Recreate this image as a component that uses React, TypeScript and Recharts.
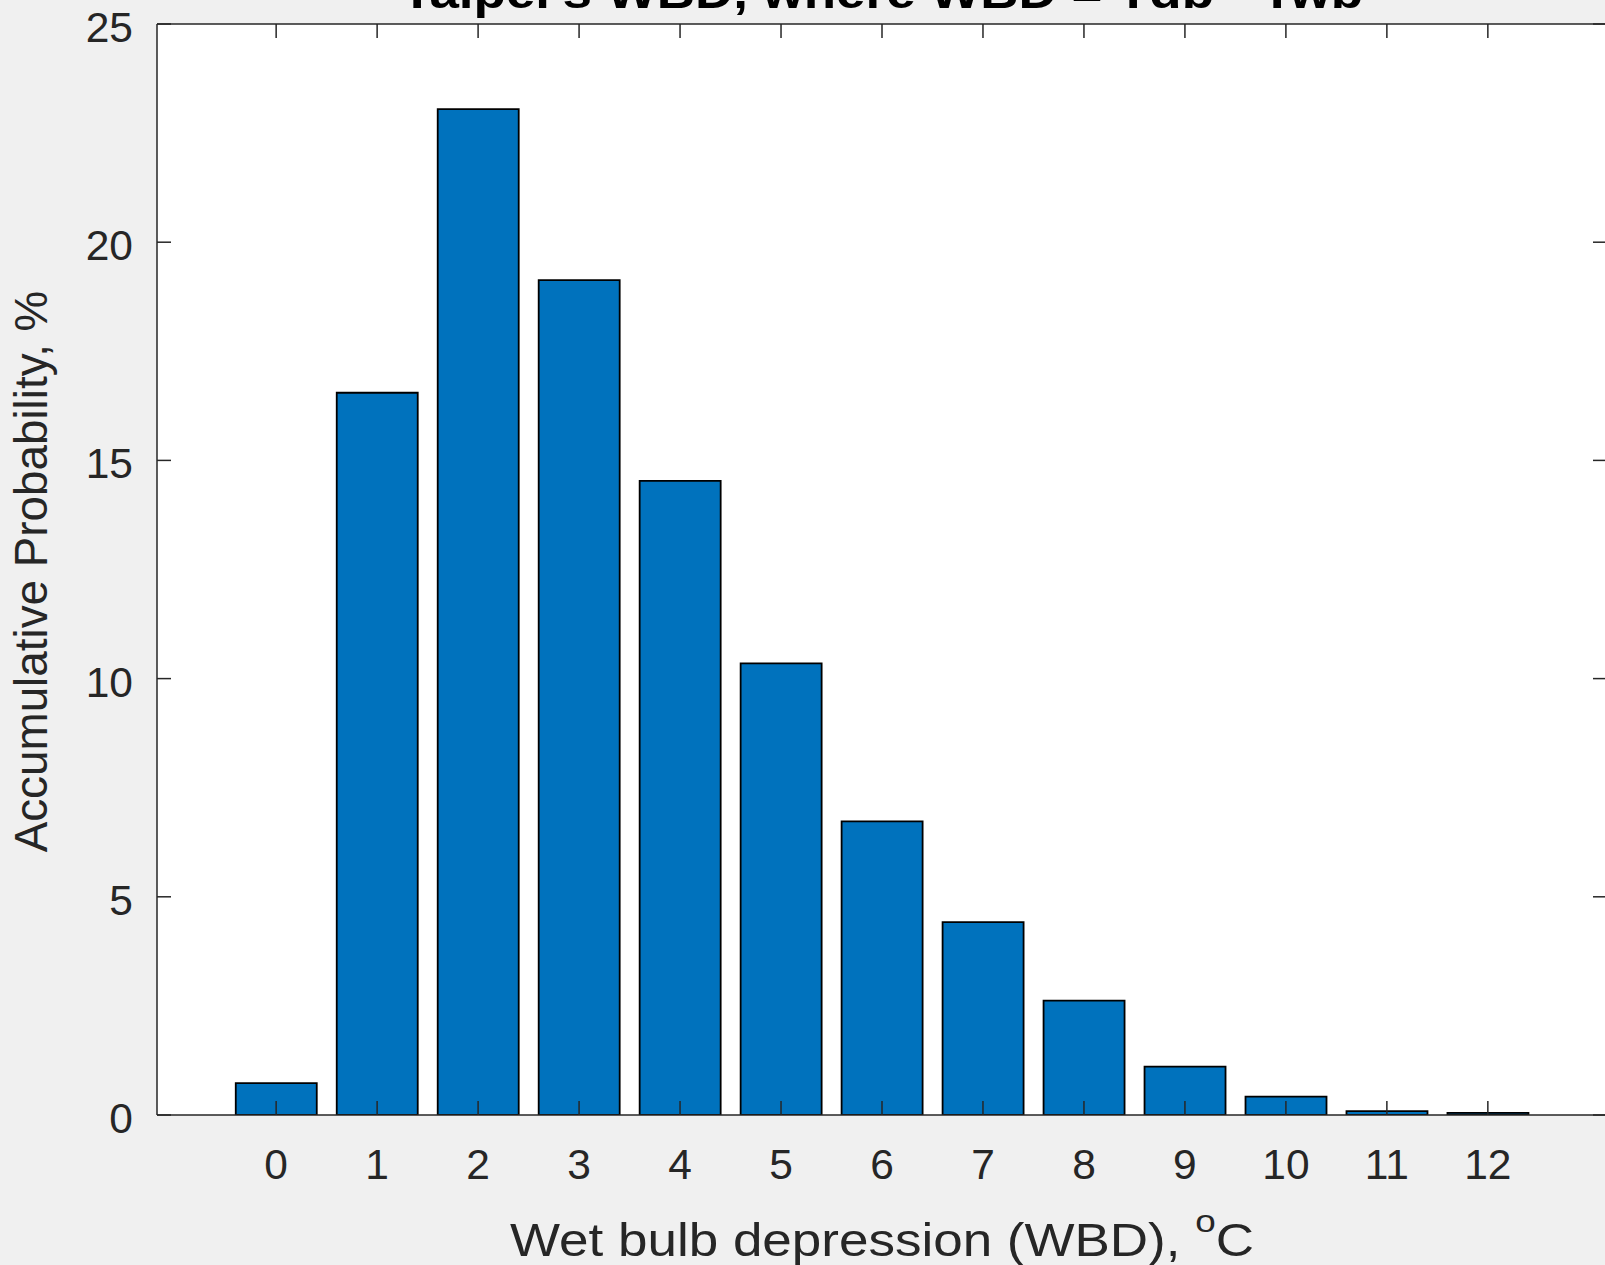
import React from "react";
import { BarChart, Bar, XAxis, YAxis, CartesianGrid } from "recharts";

const categories = [0, 1, 2, 3, 4, 5, 6, 7, 8, 9, 10, 11, 12];
const probabilities = [0.73, 16.55, 23.05, 19.13, 14.53, 10.35, 6.73, 4.42, 2.62, 1.11, 0.42, 0.09, 0.05];
const yTicks = [0, 5, 10, 15, 20, 25];
const xDomain = [-1.18, 13.18];
const yDomain = [0, 25];

const titleText = "Taipei's WBD, where WBD = Tdb - Twb";
const xLabelText = "Wet bulb depression (WBD), ";
const yLabelText = "Accumulative Probability, %";

const data = categories.map((c, i) => ({ wbd: c, p: probabilities[i] }));

const FONT = "'Liberation Sans', Arial, Helvetica, sans-serif";
const AX = "#262626";
const OFF = 40;

const renderTitle = (props: any) => {
  const vb = props.viewBox || {};
  const cx = vb.x + vb.width / 2;
  const top = vb.y + vb.height;
  return (
    <text
      x={cx}
      y={top - 16}
      textAnchor="middle"
      fontFamily={FONT}
      fontWeight="bold"
      fontSize={46}
      fill="#000"
      textLength={962}
      lengthAdjust="spacingAndGlyphs"
    >
      {titleText}
    </text>
  );
};

const renderXLabel = (props: any) => {
  const vb = props.viewBox || {};
  const cx = vb.x + vb.width / 2;
  return (
    <text
      x={cx}
      y={vb.y + 141}
      textAnchor="middle"
      fontFamily={FONT}
      fontSize={46}
      fill={AX}
      textLength={744}
      lengthAdjust="spacingAndGlyphs"
    >
      {xLabelText}
      <tspan fontSize={32} dy={-24}>o</tspan>
      <tspan dy={24}>C</tspan>
    </text>
  );
};

const renderYLabel = (props: any) => {
  const vb = props.viewBox || {};
  const cx = 47;
  const cy = vb.y + vb.height / 2 + 2;
  return (
    <text
      x={cx}
      y={cy}
      transform={`rotate(-90, ${cx}, ${cy})`}
      textAnchor="middle"
      fontFamily={FONT}
      fontSize={45.8}
      fill={AX}
    >
      {yLabelText}
    </text>
  );
};

export default function App() {
  return (
    <div
      style={{
        position: "absolute",
        left: 0,
        top: 0,
        width: 1605,
        height: 1265,
        overflow: "hidden",
        background: "#f0f0f0",
      }}
    >
      <div style={{ position: "absolute", left: 0, top: -OFF }}>
        <BarChart
          width={1620}
          height={1265 + OFF}
          data={data}
          margin={{ top: 23 + OFF, right: 12, bottom: 0, left: 0 }}
          barCategoryGap="10%"
        >
          <CartesianGrid fill="#ffffff" stroke="none" />
          <XAxis
            dataKey="wbd"
            type="number"
            domain={xDomain}
            ticks={categories}
            allowDataOverflow
            height={150}
            tickSize={-14}
            tickMargin={48}
            axisLine={{ stroke: AX, strokeWidth: 1.5 }}
            tickLine={{ stroke: AX, strokeWidth: 1.5 }}
            tick={{ fill: AX, fontSize: 42.5, fontFamily: FONT }}
            label={{ content: renderXLabel }}
          />
          <XAxis
            xAxisId="top"
            orientation="top"
            dataKey="wbd"
            type="number"
            domain={xDomain}
            ticks={categories}
            allowDataOverflow
            height={1}
            tickSize={-14}
            tickMargin={0}
            tickFormatter={() => ""}
            axisLine={{ stroke: AX, strokeWidth: 1.5 }}
            tickLine={{ stroke: AX, strokeWidth: 1.5 }}
            label={{ content: renderTitle }}
          />
          <YAxis
            domain={yDomain}
            ticks={yTicks}
            allowDataOverflow
            width={157}
            tickSize={-14}
            tickMargin={38}
            axisLine={{ stroke: AX, strokeWidth: 1.5 }}
            tickLine={{ stroke: AX, strokeWidth: 1.5 }}
            tick={{ fill: AX, fontSize: 42.5, fontFamily: FONT, dy: 3 }}
            label={{ content: renderYLabel }}
          />
          <YAxis
            yAxisId="right"
            orientation="right"
            domain={yDomain}
            ticks={yTicks}
            allowDataOverflow
            width={1}
            tickSize={-14}
            tickMargin={0}
            tickFormatter={() => ""}
            axisLine={{ stroke: AX, strokeWidth: 1.5 }}
            tickLine={{ stroke: AX, strokeWidth: 1.5 }}
          />
          <Bar
            dataKey="p"
            fill="#0072BD"
            stroke="#000000"
            strokeWidth={1.8}
            isAnimationActive={false}
          />
        </BarChart>
      </div>
    </div>
  );
}
